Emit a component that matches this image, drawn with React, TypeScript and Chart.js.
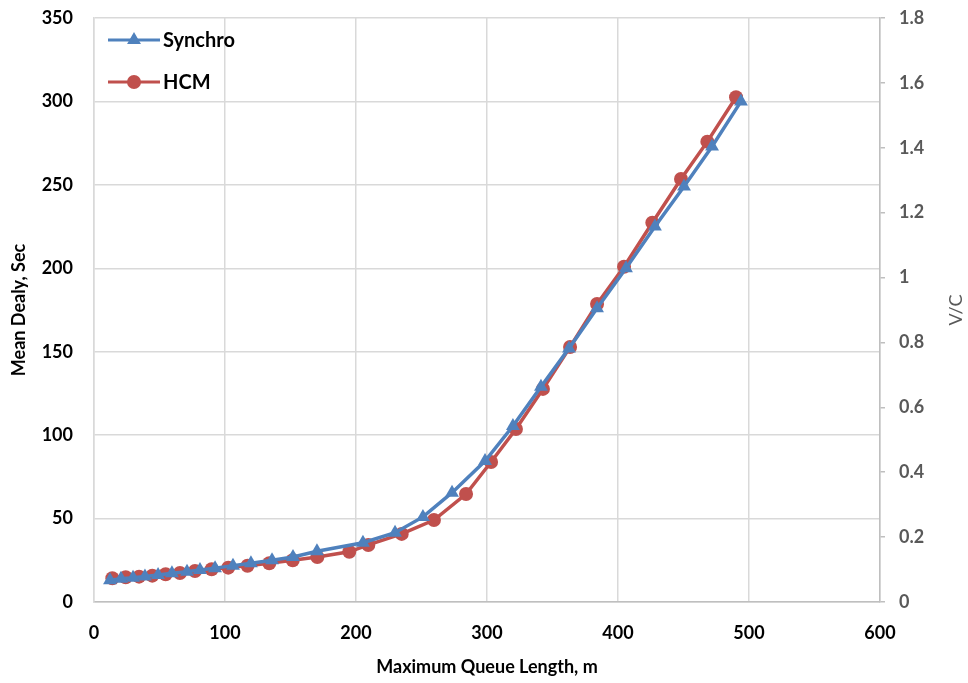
import React, { useEffect, useRef } from "react";
import { Chart, registerables } from "chart.js";

Chart.register(...registerables);

const synchroX = [12.2, 20.6, 29.8, 38.9, 48.9, 59.5, 71, 80.9, 92.4, 106.1, 119.8, 135.9, 151.9, 170.2, 205.3, 229.8, 251.1, 273.3, 298.5, 319.8, 341.2, 362.6, 384, 406.1, 428.2, 450.4, 471.8, 493.9];
const synchroY = [13, 14, 14.6, 15.3, 16.2, 17.2, 18.2, 19.2, 20.3, 21.8, 23.2, 25, 27, 30.4, 35.5, 41.5, 51, 65.5, 84.5, 105.5, 129, 152, 176, 200, 225, 249, 273, 300];

const hcmX = [14.0, 24.2, 34.4, 44.5, 54.7, 65.6, 77.1, 89.8, 102.5, 117.2, 133.8, 151.7, 170.5, 194.9, 209.4, 234.9, 259.5, 284.0, 303.1, 322.1, 342.7, 363.4, 384.0, 404.6, 426.2, 448.1, 468.2, 490.1];
const hcmY = [14.2, 14.8, 15.2, 15.8, 16.6, 17.4, 18.6, 19.6, 20.6, 21.7, 23.2, 25.0, 27.0, 30.1, 34.2, 40.8, 49.1, 64.7, 83.9, 103.7, 127.7, 152.8, 178.6, 200.9, 227.3, 253.5, 275.9, 302.5];

const seriesNames = ["Synchro", "HCM"];
const xTitle = "Maximum Queue Length, m";
const yTitle = "Mean Dealy, Sec";
const y2Title = "V/C";

const BLUE = "#4f81bd";
const RED = "#c0504d";
const FONT = "Lato, 'Open Sans', 'Liberation Sans', sans-serif";

function drawMarker(ctx: CanvasRenderingContext2D, style: string, x: number, y: number, r: number, color: string) {
  ctx.save();
  ctx.fillStyle = color;
  ctx.beginPath();
  if (style === "triangle") {
    ctx.moveTo(x, y - r);
    ctx.lineTo(x + r * 0.866, y + r * 0.5);
    ctx.lineTo(x - r * 0.866, y + r * 0.5);
    ctx.closePath();
  } else {
    ctx.arc(x, y, r, 0, Math.PI * 2);
  }
  ctx.fill();
  ctx.restore();
}

const overlayPlugin = {
  id: "overlay",
  afterDraw(chart: any) {
    const ctx: CanvasRenderingContext2D = chart.ctx;
    const area = chart.chartArea;
    const items = [
      { name: seriesNames[0], color: BLUE, style: "triangle", r: 8 },
      { name: seriesNames[1], color: RED, style: "circle", r: 7 },
    ];
    items.forEach((it, i) => {
      const y = area.top + 22 + i * 42;
      const x0 = area.left + 14;
      const x1 = area.left + 66;
      ctx.save();
      ctx.strokeStyle = it.color;
      ctx.lineWidth = 3;
      ctx.beginPath();
      ctx.moveTo(x0, y);
      ctx.lineTo(x1, y);
      ctx.stroke();
      ctx.restore();
      drawMarker(ctx, it.style, (x0 + x1) / 2, y, it.r, it.color);
      ctx.save();
      ctx.fillStyle = "#000";
      ctx.font = "bold 20px " + FONT;
      ctx.textBaseline = "middle";
      ctx.textAlign = "left";
      ctx.fillText(it.name, x1 + 3, y + 1);
      ctx.restore();
    });
    ctx.save();
    ctx.translate(956, (area.top + area.bottom) / 2);
    ctx.rotate(-Math.PI / 2);
    ctx.fillStyle = "#595959";
    ctx.font = "18px " + FONT;
    ctx.textAlign = "center";
    ctx.textBaseline = "middle";
    ctx.fillText(y2Title, 0, 0);
    ctx.restore();
  },
};

const fixPad = (s: any) => {
  s.paddingTop = 6;
  s.paddingBottom = 6;
};

export default function App() {
  const ref = useRef<HTMLCanvasElement | null>(null);

  useEffect(() => {
    document.body.style.margin = "0";
    const canvas = ref.current;
    if (!canvas) return;
    const chart = new Chart(canvas, {
      type: "line",
      data: {
        datasets: [
          {
            label: seriesNames[0],
            data: synchroX.map((x, i) => ({ x, y: synchroY[i] })),
            borderColor: BLUE,
            backgroundColor: BLUE,
            borderWidth: 3.5,
            pointStyle: "triangle",
            pointRadius: 8,
            pointBorderWidth: 0,
            pointBackgroundColor: BLUE,
            yAxisID: "y",
          },
          {
            label: seriesNames[1],
            data: hcmX.map((x, i) => ({ x, y: hcmY[i] })),
            borderColor: RED,
            backgroundColor: RED,
            borderWidth: 3.5,
            pointStyle: "circle",
            pointRadius: 7,
            pointBorderWidth: 0,
            pointBackgroundColor: RED,
            yAxisID: "y",
          },
        ],
      },
      options: {
        responsive: false,
        animation: false,
        layout: { padding: { top: 18, left: 0, right: 0, bottom: 0 } },
        plugins: {
          legend: { display: false },
          tooltip: { enabled: false },
        },
        scales: {
          x: {
            type: "linear",
            min: 0,
            max: 600,
            ticks: {
              stepSize: 100,
              color: "#000",
              padding: 20,
              font: { family: FONT, size: 18, weight: "bold" },
            },
            grid: { color: "#d9d9d9", lineWidth: 1.5, drawTicks: false },
            border: { color: "#bfbfbf", width: 1.5 },
            title: {
              display: true,
              text: xTitle,
              color: "#000",
              font: { family: FONT, size: 18, weight: "bold" },
              padding: { top: 0, bottom: 5 },
            },
            afterFit: (s: any) => {
              s.height = 81;
            },
          },
          y: {
            position: "left",
            min: 0,
            max: 350,
            ticks: {
              stepSize: 50,
              color: "#000",
              padding: 21,
              font: { family: FONT, size: 18, weight: "bold" },
            },
            grid: { color: "#d9d9d9", lineWidth: 1.5, drawTicks: false },
            border: { color: "#d9d9d9", width: 1.5 },
            title: {
              display: true,
              text: yTitle,
              color: "#000",
              font: { family: FONT, size: 18, weight: "bold" },
              padding: { top: 8, bottom: 0 },
            },
            afterFit: (s: any) => {
              s.width = 94;
              fixPad(s);
            },
          },
          y2: {
            position: "right",
            min: 0,
            max: 1.8,
            ticks: {
              stepSize: 0.2,
              color: "#595959",
              padding: 14,
              font: { family: FONT, size: 18, weight: "bold" },
              callback: (v: any) => String(Math.round(Number(v) * 10) / 10),
            },
            grid: { drawOnChartArea: false, color: "#bfbfbf", tickLength: 5, lineWidth: 1.5 },
            border: { color: "#bfbfbf", width: 1.5 },
            afterFit: (s: any) => {
              s.width = 88;
              fixPad(s);
            },
          },
        },
      } as any,
      plugins: [overlayPlugin],
    });
    return () => chart.destroy();
  }, []);

  return (
    <div style={{ width: 968, height: 683, background: "#fff" }}>
      <canvas ref={ref} width={968} height={683} />
    </div>
  );
}
